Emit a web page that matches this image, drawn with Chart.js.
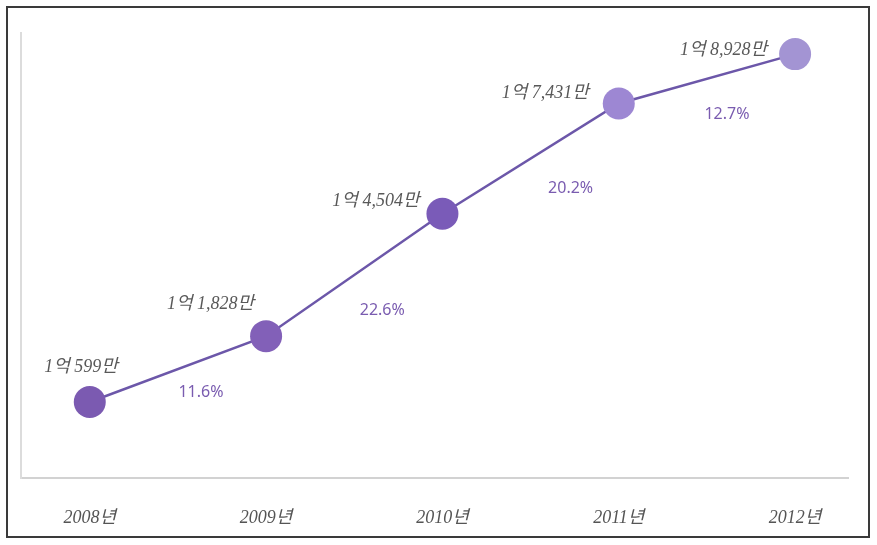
<!DOCTYPE html>
<html>
<head>
<meta charset="utf-8">
<script src="https://cdn.jsdelivr.net/npm/chart.js@4"></script>
<style>
  html,body{margin:0;padding:0;background:#fff;}
  #wrap{width:877px;height:545px;}
</style>
</head>
<body>
<div id="wrap"><canvas id="c" width="877" height="545"></canvas></div>
<script>
// ---- data ----
const years = ['2008년', '2009년', '2010년', '2011년', '2012년'];
const users = [10599, 11828, 14504, 17431, 18928]; // 만 단위
const growth = ['11.6%', '22.6%', '20.2%', '12.7%'];

// ---- style ----
const pointColors = ['#7b5ab1', '#8260b8', '#7a5bb8', '#9d87d3', '#a394d3'];
const lineColor = '#6c57a9';
const valueOffsets = [[28, -35], [-12, -32], [-23, -13], [-30, -10], [-28, -4]];
const growthOffsets = [[23, 23], [28, 35], [40, 30], [20, 36]];

function fmt(v) {
  const rest = v - 10000;
  return '1억 ' + rest.toLocaleString('en-US') + '만';
}

const framePlugin = {
  id: 'frame',
  beforeDraw(chart) {
    const ctx = chart.ctx;
    ctx.save();
    ctx.fillStyle = '#ffffff';
    ctx.fillRect(0, 0, chart.width, chart.height);
    ctx.strokeStyle = '#3a3a3a';
    ctx.lineWidth = 2;
    ctx.strokeRect(7, 7, 862, 530);
    ctx.restore();
  }
};

const labelPlugin = {
  id: 'labels',
  afterDatasetsDraw(chart) {
    const ctx = chart.ctx;
    const pts = chart.getDatasetMeta(0).data;
    ctx.save();
    ctx.font = "italic 18px 'Liberation Serif', 'Noto Sans CJK KR', serif";
    ctx.fillStyle = '#595959';
    ctx.textAlign = 'right';
    ctx.textBaseline = 'middle';
    pts.forEach((p, i) => {
      const o = valueOffsets[i];
      ctx.fillText(fmt(users[i]), p.x + o[0], p.y + o[1]);
    });
    ctx.font = "16px 'Noto Sans', 'Noto Sans CJK KR', sans-serif";
    ctx.fillStyle = '#7a5cb0';
    ctx.textAlign = 'center';
    growth.forEach((g, i) => {
      const a = pts[i], b = pts[i + 1];
      const o = growthOffsets[i];
      ctx.fillText(g, (a.x + b.x) / 2 + o[0], (a.y + b.y) / 2 + o[1]);
    });
    ctx.restore();
  }
};

new Chart(document.getElementById('c'), {
  type: 'line',
  data: {
    datasets: [{
      data: users.map((v, i) => ({ x: i, y: v })),
      borderColor: lineColor,
      borderWidth: 2.5,
      pointRadius: 16,
      pointHoverRadius: 16,
      pointBackgroundColor: pointColors,
      pointBorderWidth: 0,
      tension: 0,
      clip: false
    }]
  },
  options: {
    responsive: false,
    animation: false,
    events: [],
    layout: { padding: { left: 21, right: 29, top: 33, bottom: 19 } },
    plugins: { legend: { display: false }, tooltip: { enabled: false } },
    scales: {
      x: {
        type: 'linear',
        min: -0.39,
        max: 4.30,
        afterBuildTicks(scale) { scale.ticks = years.map((_, i) => ({ value: i })); },
        afterFit(scale) { scale.height = 48; },
        grid: { display: false, drawTicks: false },
        border: { display: true, color: '#d2d2d2', width: 2 },
        ticks: {
          autoSkip: false,
          maxRotation: 0,
          padding: 29,
          color: '#555555',
          font: { family: "'Liberation Serif', 'Noto Sans CJK KR', serif", size: 18, style: 'italic' },
          callback: (v) => years[v]
        }
      },
      y: {
        type: 'logarithmic',
        min: 9338,
        max: 19605,
        bounds: 'data',
        grid: { display: false, drawTicks: false },
        border: { display: true, color: '#dcdcdc', width: 2 },
        ticks: { display: false }
      }
    }
  },
  plugins: [framePlugin, labelPlugin]
});
</script>
</body>
</html>
